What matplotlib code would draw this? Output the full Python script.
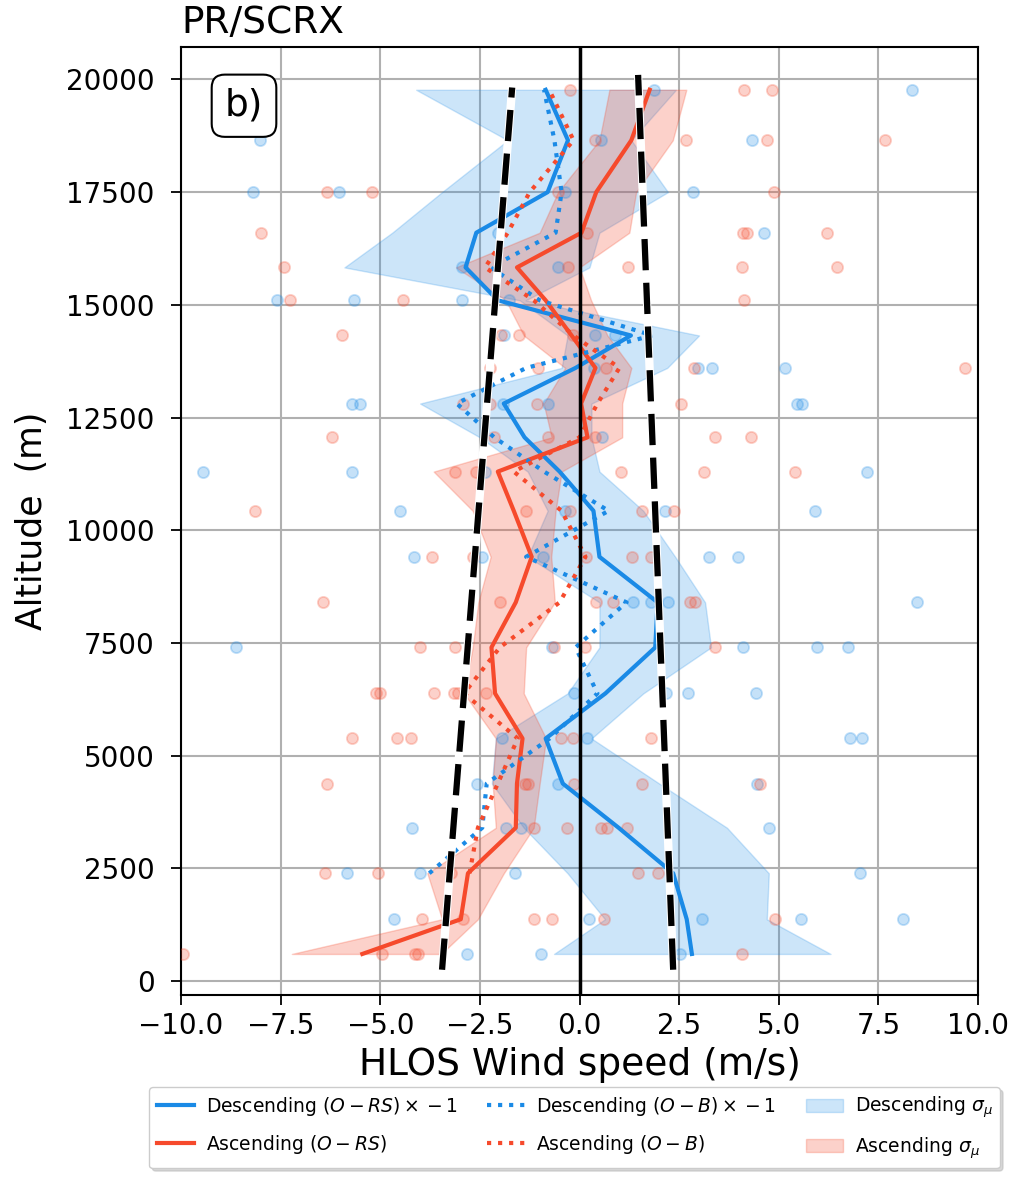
import numpy as np
import matplotlib
matplotlib.use('Agg')
import matplotlib.pyplot as plt
from matplotlib.lines import Line2D
from matplotlib.patches import Patch

nan = np.nan

# altitude levels (m), bottom to top
levels = [600, 1370, 2390, 3400, 4380, 5380, 6380, 7400, 8400, 9410, 10430,
          11300, 12060, 12810, 13600, 14320, 15100, 15830, 16600, 17500, 18650, 19770]

# mean profiles (m/s)
desc_rs = [2.82, 2.69, 2.35, 0.98, -0.42, -0.85, 0.65, 1.9, 1.96, 0.5, 0.35,
           -0.5, -1.38, -1.9, -0.1, 1.29, -2.05, -2.86, -2.59, -0.80, -0.29, -0.85]
asc_rs = [-5.45, -2.98, -2.8, -1.60, -1.57, -1.43, -2.12, -2.21, -1.6, -1.2, -1.65,
          -2.05, 0.2, 0.04, 0.4, -0.2, -0.85, -1.57, 0.05, 0.42, 1.3, 1.76]
desc_ob = [nan, nan, -3.77, -2.44, -2.33, -0.75, 0.45, -0.1, 1.18, -1.34, 0.73,
           -0.89, -2.14, -3.08, -1.34, 1.83, -1.0, -2.23, -0.6, -0.45, -0.63, -0.89]
asc_ob = [nan, nan, -2.76, -2.55, -2.05, -1.55, -2.9, -2.0, -0.5, 0.15, -0.45,
          -1.65, 0.0, 0.45, 1.0, -0.15, -1.15, -2.37, -1.8, -1.25, -0.15, -0.76]

# sigma_mu bands (left / right edges)
desc_lo = [-0.64, 0.64, -0.3, -1.4, -2.2, -2.1, -0.3, 0.5, 0.5, -1.3, -0.8,
           -1.3, -2.5, -4.0, -0.45, -0.3, -1.5, -5.9, -4.7, -3.45, -1.8, -4.1]
desc_hi = [6.3, 4.7, 4.75, 3.7, 2.0, 0.3, 1.6, 3.3, 3.15, 2.4, 1.6,
           0.5, 0.3, 0.3, 2.2, 3.0, -1.35, 0.25, 0.5, 2.22, 1.3, 2.42]
asc_lo = [-7.22, -3.45, -3.82, -2.1, -2.18, -2.1, -2.9, -2.68, -2.54, -2.23, -2.68,
          -3.66, -0.7, -0.9, -0.36, -1.4, -1.85, -3.1, -1.0, -0.54, 0.5, 0.75]
asc_hi = [-3.47, -2.55, -1.9, -1.15, -1.0, -0.84, -1.4, -1.34, -0.62, -0.71, -0.6,
          -0.45, 1.07, 1.07, 1.3, 0.7, 0.29, 0.0, 1.25, 1.42, 2.34, 2.68]

# individual samples per level
desc_pts = [
    [-2.83, -0.97, 2.53],
    [-4.66, 0.23, 3.08, 5.55, 8.12],
    [-5.84, -4.01, -1.63, 7.04],
    [-4.2, -1.85, -1.47, 4.75],
    [-2.57, -0.55, 4.45],
    [-1.95, 0.2, 6.8, 7.08],
    [-0.13, 2.18, 2.73, 4.44],
    [-8.62, -0.7, 4.1, 5.97, 6.74],
    [1.34, 1.8, 2.23, 8.47],
    [-4.15, -2.44, -0.92, 3.26, 3.97],
    [-4.51, -0.36, 2.14, 5.92],
    [-9.45, -5.72, -2.37, 7.21],
    [0.56],
    [-5.7, -5.5, -1.93, -0.8, 5.45, 5.58],
    [0.36, 2.97, 3.33, 5.15],
    [-1.89, 0.38, 0.88],
    [-7.6, -5.65, -2.95, -1.76],
    [-2.94, -0.55],
    [-2.05, 4.64],
    [-8.2, -6.03, -0.36, 2.86],
    [-8.02, 0.54, 4.33],
    [1.88, 8.35],
]
asc_pts = [
    [-9.95, -4.95, -4.14, -4.05, 4.08],
    [-3.95, -2.93, -1.14, -0.69, 0.62, 4.9],
    [-6.39, -5.06, -3.22, 1.48, 1.96],
    [-1.14, -0.31, 0.55, 0.68, 1.19],
    [-6.33, -1.38, -1.29, -0.14, 1.58, 4.53],
    [-5.71, -4.57, -4.22, -0.46, -0.17, 1.8],
    [-5.12, -5.0, -3.64, -3.16, -3.05, -2.34],
    [-4.0, -3.13, -0.63, 0.15, 3.4],
    [-6.43, -2.0, 0.41, 0.85, 2.77, 2.9],
    [-3.71, -2.68, 0.17, 1.32, 1.8],
    [-8.14, -1.34, -0.25, 1.56, 2.37],
    [-3.13, -2.59, 1.04, 3.13, 5.42],
    [-6.2, -2.15, -0.8, 0.38, 3.39, 4.3],
    [-2.92, -2.25, -1.06, 2.55],
    [-2.25, -1.03, 0.67, 2.87, 9.67],
    [-5.95, -1.97, -1.52, -0.17],
    [-7.27, -4.43, 4.14],
    [-7.42, -0.3, 1.22, 4.08, 6.47],
    [-8.0, 0.18, 4.1, 4.2, 6.2],
    [-6.33, -5.22, -0.54, 4.87],
    [0.4, 2.68, 4.7, 7.67],
    [-0.25, 4.13, 4.83],
]

# linear fits (dashed black)
fit1_alt = [250, 19820]
fit1_x = [-3.45, -1.69]
fit2_alt = [250, 20100]
fit2_x = [2.35, 1.47]

blue = '#1a8ae6'
red = '#f64a2c'

fig = plt.figure(figsize=(10.12, 11.8), dpi=100)
ax = fig.add_axes([0.1789, 0.1568, 0.7875, 0.8034])

#bands
ax.fill_betweenx(levels, desc_lo, desc_hi, color=blue, alpha=0.22, lw=1, zorder=2)
ax.fill_betweenx(levels, asc_lo, asc_hi, color=red, alpha=0.25, lw=1, zorder=2)

#samples
for lev, xs in zip(levels, desc_pts):
    ax.scatter(xs, [lev] * len(xs), s=65, color=blue, alpha=0.25, lw=1.3, zorder=3)
for lev, xs in zip(levels, asc_pts):
    ax.scatter(xs, [lev] * len(xs), s=65, color=red, alpha=0.25, lw=1.3, zorder=3)

#profiles
ax.plot(desc_rs, levels, color=blue, lw=3, zorder=4)
ax.plot(asc_rs, levels, color=red, lw=3, zorder=4)
ax.plot(desc_ob, levels, color=blue, lw=3, ls=':', zorder=4)
ax.plot(asc_ob, levels, color=red, lw=3, ls=':', zorder=4)

ax.axvline(0, color='black', lw=2.5, zorder=5)

#fits
for fx, fa in [(fit1_x, fit1_alt), (fit2_x, fit2_alt)]:
    ax.plot(fx, fa, color='white', lw=6, zorder=6, solid_capstyle='butt')
    ax.plot(fx, fa, color='black', lw=4.5, dashes=(5, 2), zorder=7)

ax.set_xlim(-10, 10)
ax.set_ylim(-310, 20720)
ax.set_xticks(np.arange(-10, 10.1, 2.5))
ax.set_yticks(np.arange(0, 20001, 2500))
ax.grid(True, color='#b0b0b0', lw=1.5)
ax.set_axisbelow(True)
ax.tick_params(labelsize=20, length=7, width=1.3)
ax.tick_params(axis='y', pad=12)
ax.tick_params(axis='x', pad=5)
for s in ax.spines.values():
    s.set_linewidth(1.5)

ax.set_title('PR/SCRX', loc='left', fontsize=27, pad=10)
ax.set_ylabel('Altitude  (m)', fontsize=25, labelpad=12)
ax.set_xlabel('HLOS Wind speed (m/s)', fontsize=27, labelpad=5)

ax.text(0.079, 0.938, 'b)', transform=ax.transAxes, fontsize=27, ha='center', va='center',
        zorder=10, bbox=dict(boxstyle='round,pad=0.35', fc='white', ec='black', lw=1.5))

handles = [
    Line2D([], [], color=blue, lw=3),
    Line2D([], [], color=red, lw=3),
    Line2D([], [], color=blue, lw=3, ls=':'),
    Line2D([], [], color=red, lw=3, ls=':'),
    Patch(facecolor=blue, edgecolor=blue, alpha=0.22),
    Patch(facecolor=red, edgecolor=red, alpha=0.25),
]
labels = [
    r'Descending $(O-RS)\times-1$',
    r'Ascending $(O-RS)$',
    r'Descending $(O-B)\times-1$',
    r'Ascending $(O-B)$',
    r'Descending $\sigma_\mu$',
    r'Ascending $\sigma_\mu$',
]
fig.legend(handles, labels, loc='lower center', bbox_to_anchor=(0.568, 0.002), ncol=3,
           fontsize=13.5, fancybox=True, shadow={'shade': 0.3}, handlelength=2.0,
           columnspacing=1.6, labelspacing=0.8, handletextpad=0.6)

fig.savefig('out.png', dpi=100)
